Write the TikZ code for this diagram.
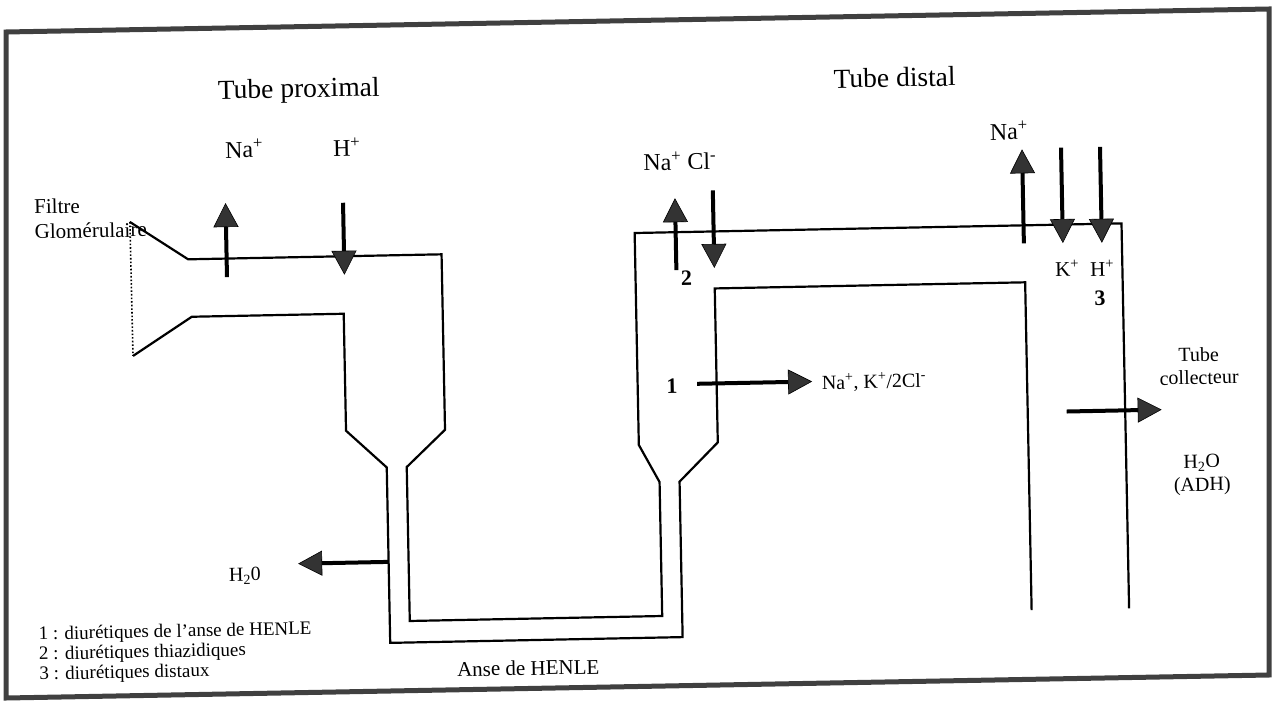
\documentclass[tikz,border=0pt]{standalone}
\usepackage{fontspec}
\setmainfont{Liberation Serif}
\usetikzlibrary{arrows.meta}
\begin{document}
\begin{tikzpicture}[x=1pt,y=-1pt,
  frameline/.style={line width=5pt,draw=black!75,line join=miter},
  tube/.style={line width=2.2pt,line join=miter},
  opening/.style={line width=1.6pt,dotted},
  flux/.style={line width=4pt,draw=black,-{Triangle[width=25pt,length=24pt,line width=0.6pt,fill=black!80]}},
  title/.style={inner sep=0pt,font=\fontsize{27.5}{31}\selectfont},
  ion/.style={inner sep=0pt,font=\fontsize{24}{28}\selectfont},
  ionsmall/.style={inner sep=0pt,font=\fontsize{21}{24}\selectfont},
  num/.style={inner sep=0pt,font=\fontsize{22}{26}\selectfont\bfseries},
  note/.style={inner sep=0pt,font=\fontsize{20}{22}\selectfont},
  legend/.style={inner sep=0pt,font=\fontsize{19}{20}\selectfont},
  twoline/.style={inner sep=0pt,align=center,font=\fontsize{20}{23}\selectfont}
]
\useasboundingbox (0,0) rectangle (1275,701);
\draw[frameline] (6,32) -- (1269,9) -- (1269,675) -- (6,698) -- cycle;

\begin{scope}[rotate around={1.13:(637,350)}, transform shape]
% outer wall line
\coordinate (F1) at (132.5,212);
\coordinate (P1) at (190,250.5);
\coordinate (P2) at (443.5,250.5);
\coordinate (P3) at (443.5,426);
\coordinate (P4) at (404.5,462.5);
\coordinate (P5) at (404.5,616.5);
\coordinate (P6) at (657,616.5);
\coordinate (P7) at (657,482.5);
\coordinate (P8) at (637,445);
\coordinate (P9) at (637,233);
\coordinate (P10) at (1124,233);
\coordinate (P11) at (1124,618);
% inner wall line
\coordinate (F2) at (133,346);
\coordinate (Q1) at (192.5,308);
\coordinate (Q2) at (344.5,308);
\coordinate (Q3) at (344.5,425);
\coordinate (Q4) at (384.5,462.5);
\coordinate (Q5) at (384.5,638);
\coordinate (Q6) at (677,638);
\coordinate (Q7) at (677,482.5);
\coordinate (Q8) at (716,444);
\coordinate (Q9) at (716,290);
\coordinate (Q10) at (1026.5,290);
\coordinate (Q11) at (1026.5,618);

\draw[tube] (F1) -- (P1) -- (P2) -- (P3) -- (P4) -- (P5) -- (P6) -- (P7) -- (P8) -- (P9) -- (P10) -- (P11);
\draw[tube] (F2) -- (Q1) -- (Q2) -- (Q3) -- (Q4) -- (Q5) -- (Q6) -- (Q7) -- (Q8) -- (Q9) -- (Q10) -- (Q11);
\draw[opening] (F1) -- (F2);

% arrow end points
\coordinate (naPs) at (228.5,269);  \coordinate (naPe) at (228.5,195);
\coordinate (hPs) at (346,197);     \coordinate (hPe) at (346,269);
\coordinate (wPe) at (294,557);
\coordinate (naDs) at (678,271);    \coordinate (naDe) at (678,199);
\coordinate (clDs) at (716,192);    \coordinate (clDe) at (716,269.5);
\coordinate (aUs) at (696.5,385);   \coordinate (aUe) at (811.5,385);
\coordinate (naRs) at (1026,251);   \coordinate (naRe) at (1026,157);
\coordinate (kRs) at (1065,156);    \coordinate (kRe) at (1065,251.5);
\coordinate (hRs) at (1104,156);    \coordinate (hRe) at (1104,252);
\coordinate (wRs) at (1065.5,420);  \coordinate (wRe) at (1160.5,420);

\draw[flux] (naPs) -- (naPe);
\draw[flux] (hPs) -- (hPe);
\draw[flux] (Q5 |- wPe) -- (wPe);
\draw[flux] (naDs) -- (naDe);
\draw[flux] (clDs) -- (clDe);
\draw[flux] (aUs) -- (aUe);
\draw[flux] (naRs) -- (naRe);
\draw[flux] (kRs) -- (kRe);
\draw[flux] (hRs) -- (hRe);
\draw[flux] (wRs) -- (wRe);

% texts
\node[title,anchor=base] (tprox) at (304,91) {Tube proximal};
\node[title,anchor=base] (tdist) at (900,92) {Tube distal};
\node[note,anchor=base west,font=\fontsize{21}{23}\selectfont] (filtre) at (37,202) {Filtre};
\node[note,anchor=base west,font=\fontsize{21}{23}\selectfont] (glom) at (37,227) {Glomérulaire};
\node[ion,anchor=base west] (naP) at (229,150) {Na\textsuperscript{+}};
\node[ion,anchor=base west] (hP) at (337,151) {H\textsuperscript{+}};
\node[ion,anchor=base west] (naclD) at (647,171) {Na\textsuperscript{+} Cl\textsuperscript{-}};
\node[ion,anchor=base west] (naR) at (994,147) {Na\textsuperscript{+}};
\node[ionsmall,anchor=base west] (kR) at (1056.5,285) {K\textsuperscript{+}};
\node[ionsmall,anchor=base west] (hR) at (1091.5,285.5) {H\textsuperscript{+}};
\node[num] (n3) at (1101,307) {3};
\node[num] (n2) at (688,279) {2};
\node[num] (n1) at (671.3,386.7) {1};
\node[note,anchor=base west] (nak) at (821,393) {Na\textsuperscript{+}, K\textsuperscript{+}/2Cl\textsuperscript{-}};
\node[note] (h2oP) at (240.5,568) {H\textsubscript{2}0};
\node[twoline] (tcoll) at (1198.5,377) {Tube\\collecteur};
\node[twoline] (h2oR) at (1199.5,486) {H\textsubscript{2}O\\(ADH)};
\node[legend,anchor=base west] (leg1) at (33,628) {1 : diurétiques de l’anse de HENLE};
\node[legend,anchor=base west] (leg2) at (33,648) {2 : diurétiques thiazidiques};
\node[legend,anchor=base west] (leg3) at (33,668) {3 : diurétiques distaux};
\node[note,anchor=base,font=\fontsize{21}{23}\selectfont] (anse) at (522,673) {Anse de HENLE};
\end{scope}
\end{tikzpicture}
\end{document}
